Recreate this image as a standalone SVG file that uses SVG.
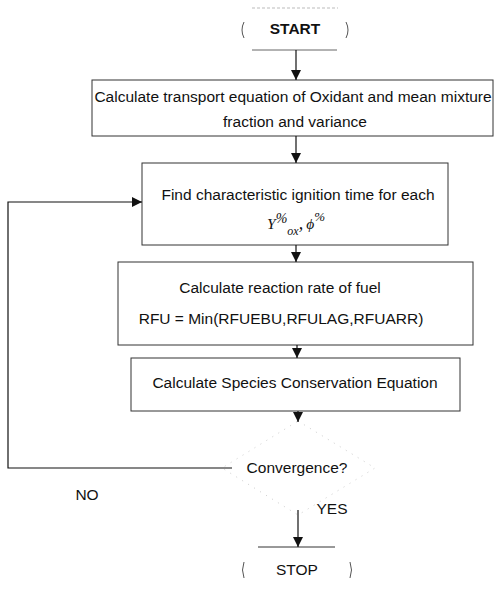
<svg xmlns="http://www.w3.org/2000/svg" width="494" height="592" viewBox="0 0 494 592">
<style>
text{font-family:"Liberation Sans",Arial,sans-serif;font-size:15.5px;fill:#111}
.c{text-anchor:middle}
.box{fill:#fff;stroke:#333;stroke-width:1}
.ln{stroke:#111;stroke-width:1.2;fill:none}
.faint{stroke:#ccc;stroke-width:1;fill:none;stroke-dasharray:1 6}
.par{stroke:#555;stroke-width:1;fill:none}
.m{font-family:"Liberation Serif","Times New Roman",serif;font-style:italic}
</style>
<defs>
<marker id="ah" viewBox="0 0 10 10" refX="10" refY="5" markerWidth="10" markerHeight="11" markerUnits="userSpaceOnUse" orient="auto"><path d="M0,0 L10,5 L0,10 z" fill="#111"/></marker>
</defs>
<rect width="494" height="592" fill="#fff"/>
<g id="start">
<line class="faint" x1="252" y1="8" x2="338" y2="8" style="stroke-dasharray:3 2;stroke:#bbb"/>
<path class="par" d="M244,22 Q240,30 244,38"/>
<path class="par" d="M346,22 Q350,30 346,38"/>
<line x1="252" y1="50" x2="337" y2="50" stroke="#666" stroke-width="1"/>
<text class="c" x="295" y="34" font-weight="bold">START</text>
</g>
<g id="transport">
<rect class="box" x="92" y="80" width="401" height="56"/>
<text class="c" x="293" y="102">Calculate transport equation of Oxidant and mean mixture</text>
<text class="c" x="295" y="127">fraction and variance</text>
</g>
<g id="ignition">
<rect class="box" x="142" y="163" width="306" height="82"/>
<text class="c" x="298" y="200">Find characteristic ignition time for each</text>
<text class="m" x="267" y="229" font-size="20">Y<tspan font-size="14" dy="-6">%</tspan><tspan font-size="12" dy="12">ox</tspan><tspan font-size="18" dy="-6">,</tspan><tspan dx="3">ϕ</tspan><tspan font-size="13" dy="-8">%</tspan></text>
</g>
<g id="reaction">
<rect class="box" x="118" y="262" width="355" height="83"/>
<text class="c" x="280" y="293">Calculate reaction rate of fuel</text>
<text class="c" x="281" y="324">RFU = Min(RFUEBU,RFULAG,RFUARR)</text>
</g>
<g id="species">
<rect class="box" x="131" y="358" width="329" height="53"/>
<text class="c" x="295" y="388">Calculate Species Conservation Equation</text>
</g>
<g id="convergence">
<path class="faint" d="M298,421 L375,468 L298,515 L222,468 Z"/>
<text class="c" x="297" y="473">Convergence?</text>
</g>
<g id="stop">
<line x1="258" y1="547" x2="335" y2="547" stroke="#333" stroke-width="1"/>
<path class="par" d="M244,562 Q241,570 244,578"/>
<path class="par" d="M350,562 Q353,570 350,578"/>
<text class="c" x="297" y="575">STOP</text>
</g>
<g id="connectors">
<line class="ln" x1="296" y1="50" x2="296" y2="80" marker-end="url(#ah)"/>
<line class="ln" x1="296" y1="136" x2="296" y2="163" marker-end="url(#ah)"/>
<line class="ln" x1="296" y1="245" x2="296" y2="262" marker-end="url(#ah)"/>
<line class="ln" x1="297" y1="345" x2="297" y2="358" marker-end="url(#ah)"/>
<line class="ln" x1="298" y1="411" x2="298" y2="422" marker-end="url(#ah)"/>
<polyline class="ln" points="232,468 8,468 8,202 142,202" marker-end="url(#ah)"/>
<line class="ln" x1="298" y1="510" x2="298" y2="547" marker-end="url(#ah)"/>
<text x="87" y="500" class="c">NO</text>
<text x="332" y="514" class="c">YES</text>
</g>
</svg>
